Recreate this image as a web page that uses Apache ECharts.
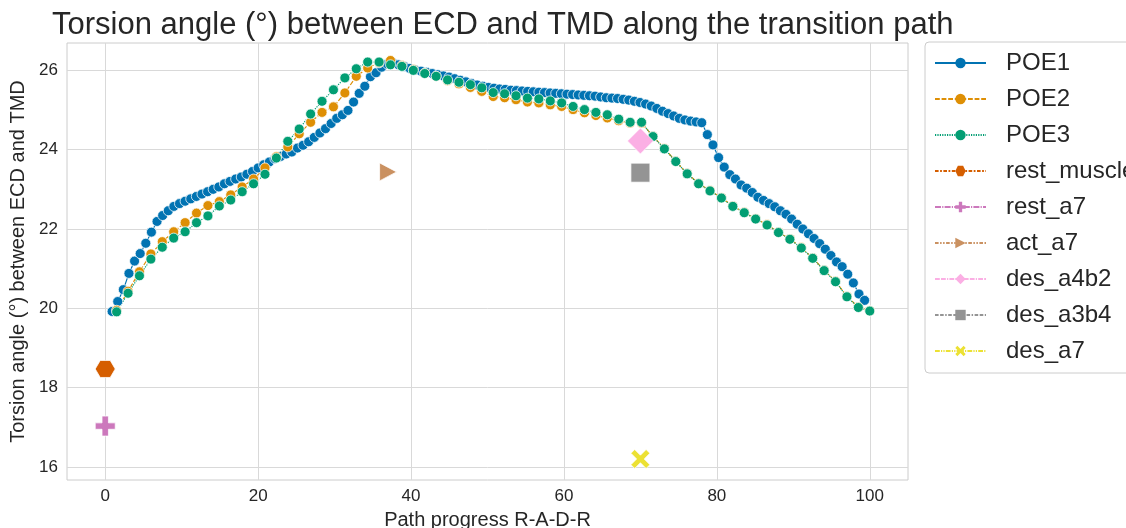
<!DOCTYPE html>
<html>
<head>
<meta charset="utf-8">
<script src="https://cdn.jsdelivr.net/npm/echarts@6/dist/echarts.min.js"></script>
<style>
  html, body { margin: 0; padding: 0; background: #fff; }
  #chart { width: 1126px; height: 528px; }
</style>
</head>
<body>
<div id="chart"></div>
<script>
// Torsion angle along the R-A-D-R path for three path-optimisation runs
const poe1Angle = [
  19.92, 20.17, 20.47, 20.88, 21.19, 21.38, 21.64, 21.92, 22.19, 22.34,
  22.46, 22.57, 22.64, 22.70, 22.76, 22.82, 22.88, 22.94, 23.00, 23.06,
  23.14, 23.20, 23.26, 23.31, 23.38, 23.45, 23.54, 23.62, 23.69, 23.77,
  23.83, 23.89, 23.94, 24.04, 24.11, 24.20, 24.31, 24.42, 24.53, 24.66,
  24.79, 24.88, 24.99, 25.20, 25.42, 25.60, 25.84, 25.94, 26.08, 26.16,
  26.19, 26.14, 26.10, 26.05, 26.01, 25.98, 25.95, 25.92, 25.89, 25.86,
  25.83, 25.79, 25.75, 25.71, 25.67, 25.63, 25.60, 25.57, 25.55, 25.53,
  25.52, 25.50, 25.49, 25.48, 25.47, 25.46, 25.45, 25.44, 25.43, 25.42,
  25.41, 25.40, 25.39, 25.38, 25.37, 25.36, 25.35, 25.33, 25.31, 25.30,
  25.29, 25.27, 25.25, 25.22, 25.19, 25.15, 25.10, 25.04, 24.97, 24.91,
  24.85, 24.79, 24.75, 24.72, 24.70, 24.68, 24.38, 24.12, 23.80, 23.56,
  23.37, 23.26, 23.11, 23.03, 22.92, 22.80, 22.72, 22.64, 22.56, 22.46,
  22.37, 22.25, 22.12, 22.00, 21.88, 21.76, 21.63, 21.49, 21.33, 21.17,
  21.05, 20.86, 20.64, 20.36, 20.20
];
const poe2Angle = [
  19.95, 20.43, 20.92, 21.37, 21.68, 21.93, 22.16, 22.40, 22.59, 22.69,
  22.86, 23.06, 23.26, 23.54, 23.82, 24.07, 24.40, 24.69, 24.94, 25.08,
  25.43, 25.85, 26.06, 26.19, 26.25, 26.12, 26.02, 25.93, 25.85, 25.74,
  25.66, 25.57, 25.47, 25.34, 25.31, 25.26, 25.20, 25.18, 25.13, 25.09,
  25.01, 24.93, 24.86, 24.80, 24.73, 24.67, 24.67, 24.34, 24.03, 23.71,
  23.40, 23.15, 22.97, 22.79, 22.58, 22.42, 22.26, 22.11, 21.92, 21.75,
  21.53, 21.27, 20.96, 20.68, 20.30, 20.03, 19.94
];
const poe3Angle = [
  19.91, 20.38, 20.82, 21.24, 21.54, 21.77, 21.93, 22.16, 22.33, 22.58,
  22.73, 22.94, 23.14, 23.38, 23.79, 24.21, 24.52, 24.90, 25.22, 25.51,
  25.81, 26.04, 26.21, 26.21, 26.14, 26.10, 26.00, 25.92, 25.85, 25.76,
  25.70, 25.64, 25.56, 25.44, 25.41, 25.36, 25.30, 25.28, 25.23, 25.18,
  25.09, 25.01, 24.94, 24.88, 24.77, 24.69, 24.69, 24.33, 24.02, 23.70,
  23.39, 23.14, 22.96, 22.78, 22.57, 22.41, 22.25, 22.10, 21.91, 21.74,
  21.52, 21.26, 20.95, 20.67, 20.29, 20.02, 19.93
];

// Path progress (%) of the frames: first frame and spacing for each run
const poe1Start = 0.9;
const poe1Step = 0.7345;
const poe23Step = 100 / 67;

// Reference structures, each a single point
const refNames = ['rest_muscle', 'rest_a7', 'act_a7', 'des_a4b2', 'des_a3b4', 'des_a7'];
const refProgress = [0, 0, 37, 70, 70, 70];
const refAngle = [18.47, 17.03, 23.44, 24.22, 23.42, 16.20];

const xTicks = [0, 20, 40, 60, 80, 100];
const yTicks = [16, 18, 20, 22, 24, 26];

// ---- styling ----
const FONT = "'Liberation Sans', Arial, Helvetica, sans-serif";
const TEXT = '#262626';
const LW = 1.2;
const dash = d => d === 'solid' ? 'solid' : d.map(v => v * LW);

const look = {
  POE1:        { color: '#0173b2', dash: 'solid', symbol: 'circle', size: 10 },
  POE2:        { color: '#de8f05', dash: [4, 1.5], symbol: 'circle', size: 10 },
  POE3:        { color: '#029e73', dash: [1, 1], symbol: 'circle', size: 10 },
  rest_muscle: { color: '#d55e00', dash: [3, 1.25, 1.5, 1.25],
                 symbol: 'path://M0,0.5 L0.25,0 L0.75,0 L1,0.5 L0.75,1 L0.25,1 Z', size: [20, 17] },
  rest_a7:     { color: '#cc78bc', dash: [5, 1, 1, 1],
                 symbol: 'path://M0.34,0 L0.66,0 L0.66,0.34 L1,0.34 L1,0.66 L0.66,0.66 L0.66,1 L0.34,1 L0.34,0.66 L0,0.66 L0,0.34 L0.34,0.34 Z', size: 20 },
  act_a7:      { color: '#ca9161', dash: [3, 1.25, 1.25, 1.25, 1.25, 1.25],
                 symbol: 'path://M0,0 L1,0.5 L0,1 Z', size: [17, 18] },
  des_a4b2:    { color: '#fbafe4', dash: [4, 1, 4, 1, 1, 1], symbol: 'diamond', size: 26 },
  des_a3b4:    { color: '#949494', dash: [3, 1.25, 3, 1.25, 1.25, 1.25], symbol: 'rect', size: 19 },
  des_a7:      { color: '#ece133', dash: [4, 1, 1, 1, 1, 1],
                 symbol: 'path://M0.2,0 L0.5,0.3 L0.8,0 L1,0.2 L0.7,0.5 L1,0.8 L0.8,1 L0.5,0.7 L0.2,1 L0,0.8 L0.3,0.5 L0,0.2 Z', size: 19 }
};

function lineSeries(name, data) {
  const s = look[name];
  return {
    name, type: 'line', data,
    symbol: s.symbol, symbolSize: s.size, showSymbol: true,
    itemStyle: { color: s.color, borderColor: '#ffffff', borderWidth: 0.75 },
    lineStyle: { color: s.color, width: LW, type: dash(s.dash) },
    emphasis: { disabled: true },
    animation: false
  };
}

const poe1Data = poe1Angle.map((v, i) => [poe1Start + i * poe1Step, v]);
const poe2Data = poe2Angle.map((v, i) => [(i + 1) * poe23Step, v]);
const poe3Data = poe3Angle.map((v, i) => [(i + 1) * poe23Step, v]);

const series = [
  lineSeries('POE1', poe1Data),
  lineSeries('POE2', poe2Data),
  lineSeries('POE3', poe3Data)
].concat(refNames.map((n, i) => lineSeries(n, [[refProgress[i], refAngle[i]]])));

const chart = echarts.init(document.getElementById('chart'), null, { renderer: 'canvas' });
chart.setOption({
  animation: false,
  backgroundColor: '#ffffff',
  title: {
    text: 'Torsion angle (°) between ECD and TMD along the transition path',
    left: 47, top: 5,
    textStyle: { fontFamily: FONT, fontSize: 31, fontWeight: 'normal', color: TEXT }
  },
  grid: {
    left: 67, right: 218, top: 43, bottom: 48,
    show: true, borderColor: '#cccccc', borderWidth: 1,
    containLabel: false, outerBoundsMode: 'none'
  },
  xAxis: {
    type: 'value', min: -5, max: 105,
    name: 'Path progress R-A-D-R', nameLocation: 'middle', nameGap: 30,
    nameTextStyle: { fontFamily: FONT, fontSize: 20, color: TEXT },
    axisLine: { show: false },
    axisTick: { show: false, customValues: xTicks },
    axisLabel: { customValues: xTicks, fontFamily: FONT, fontSize: 17, color: TEXT, margin: 8 },
    splitLine: { show: true, lineStyle: { color: '#d9d9d9', width: 1 } }
  },
  yAxis: {
    type: 'value', min: 15.67, max: 26.69,
    name: 'Torsion angle (°) between ECD and TMD', nameLocation: 'middle', nameGap: 31,
    nameTextStyle: { fontFamily: FONT, fontSize: 20, color: TEXT },
    axisLine: { show: false },
    axisTick: { show: false, customValues: yTicks },
    axisLabel: { customValues: yTicks, fontFamily: FONT, fontSize: 17, color: TEXT, margin: 9 },
    splitLine: { show: true, lineStyle: { color: '#d9d9d9', width: 1 } }
  },
  legend: {
    orient: 'vertical', left: 925, top: 42,
    padding: [9, 30, 10, 9],
    itemWidth: 51, itemHeight: 13, itemGap: 12,
    borderColor: '#cccccc', borderWidth: 1, borderRadius: 4,
    backgroundColor: '#ffffff',
    selectedMode: false,
    itemStyle: { borderWidth: 0 },
    textStyle: { fontFamily: FONT, fontSize: 24, color: TEXT, lineHeight: 24, padding: [0, 0, 0, 15] },
    data: ['POE1', 'POE2', 'POE3'].concat(refNames)
  },
  series
});
</script>
</body>
</html>
